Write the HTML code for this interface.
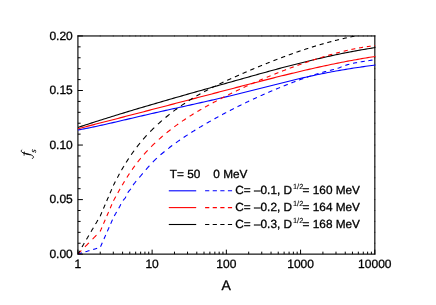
<!DOCTYPE html>
<html><head><meta charset="utf-8"><title>chart</title>
<style>
html,body{margin:0;padding:0;background:#fff;}
body{width:436px;height:305px;overflow:hidden;font-family:"Liberation Sans",sans-serif;}
svg{display:block;will-change:transform;opacity:0.999;}
text{font-family:"Liberation Sans",sans-serif;fill:#000;text-rendering:geometricPrecision;stroke:#000;stroke-width:0.3px;}
.tl{font-size:12px;}
.lg{font-size:11.8px;}
</style></head><body>
<svg width="436" height="305" viewBox="0 0 436 305">
<rect x="0" y="0" width="436" height="305" fill="#fff"/>
<defs><clipPath id="cp"><rect x="77.9" y="35.95" width="297.59999999999997" height="218.2"/></clipPath></defs>

<rect x="77.9" y="35.95" width="296.9" height="218.2" fill="none" stroke="#2b2b2b" stroke-width="1.35"/>
<g clip-path="url(#cp)" fill="none" stroke-width="1.1" stroke-linejoin="round">
<path d="M77.90,129.99 L79.90,129.62 L81.90,129.25 L83.90,128.87 L85.90,128.48 L87.90,128.09 L89.90,127.68 L91.90,127.27 L93.89,126.86 L95.89,126.43 L97.89,126.00 L99.89,125.57 L101.89,125.13 L103.89,124.69 L105.89,124.24 L107.89,123.79 L109.89,123.33 L111.89,122.87 L113.89,122.41 L115.89,121.94 L117.89,121.48 L119.89,121.01 L121.89,120.54 L123.88,120.07 L125.88,119.60 L127.88,119.13 L129.88,118.65 L131.88,118.18 L133.88,117.71 L135.88,117.24 L137.88,116.77 L139.88,116.31 L141.88,115.84 L143.88,115.38 L145.88,114.92 L147.88,114.46 L149.88,114.01 L151.88,113.55 L153.87,113.10 L155.87,112.65 L157.87,112.20 L159.87,111.75 L161.87,111.30 L163.87,110.86 L165.87,110.41 L167.87,109.97 L169.87,109.52 L171.87,109.08 L173.87,108.63 L175.87,108.19 L177.87,107.75 L179.87,107.31 L181.87,106.86 L183.86,106.42 L185.86,105.98 L187.86,105.53 L189.86,105.09 L191.86,104.64 L193.86,104.20 L195.86,103.75 L197.86,103.31 L199.86,102.86 L201.86,102.41 L203.86,101.96 L205.86,101.51 L207.86,101.05 L209.86,100.60 L211.86,100.14 L213.85,99.68 L215.85,99.22 L217.85,98.76 L219.85,98.29 L221.85,97.83 L223.85,97.36 L225.85,96.88 L227.85,96.41 L229.85,95.93 L231.85,95.45 L233.85,94.97 L235.85,94.48 L237.85,93.99 L239.85,93.50 L241.84,93.00 L243.84,92.51 L245.84,92.01 L247.84,91.51 L249.84,91.00 L251.84,90.50 L253.84,89.99 L255.84,89.49 L257.84,88.98 L259.84,88.47 L261.84,87.96 L263.84,87.46 L265.84,86.95 L267.84,86.44 L269.84,85.94 L271.83,85.43 L273.83,84.93 L275.83,84.42 L277.83,83.92 L279.83,83.42 L281.83,82.92 L283.83,82.43 L285.83,81.94 L287.83,81.45 L289.83,80.96 L291.83,80.48 L293.83,80.00 L295.83,79.52 L297.83,79.05 L299.83,78.58 L301.82,78.12 L303.82,77.66 L305.82,77.20 L307.82,76.75 L309.82,76.31 L311.82,75.87 L313.82,75.44 L315.82,75.01 L317.82,74.58 L319.82,74.17 L321.82,73.76 L323.82,73.35 L325.82,72.95 L327.82,72.56 L329.82,72.17 L331.81,71.79 L333.81,71.42 L335.81,71.05 L337.81,70.70 L339.81,70.35 L341.81,70.00 L343.81,69.67 L345.81,69.34 L347.81,69.01 L349.81,68.70 L351.81,68.38 L353.81,68.08 L355.81,67.77 L357.81,67.48 L359.81,67.18 L361.80,66.89 L363.80,66.60 L365.80,66.31 L367.80,66.02 L369.80,65.74 L371.80,65.46 L373.80,65.17 L375.80,64.89" stroke="#0000ff"/>
<path d="M77.90,128.71 L79.90,128.20 L81.90,127.69 L83.90,127.18 L85.90,126.66 L87.90,126.15 L89.90,125.64 L91.90,125.12 L93.89,124.61 L95.89,124.09 L97.89,123.58 L99.89,123.06 L101.89,122.55 L103.89,122.03 L105.89,121.52 L107.89,121.00 L109.89,120.48 L111.89,119.97 L113.89,119.45 L115.89,118.93 L117.89,118.41 L119.89,117.90 L121.89,117.38 L123.88,116.86 L125.88,116.34 L127.88,115.82 L129.88,115.30 L131.88,114.78 L133.88,114.27 L135.88,113.75 L137.88,113.23 L139.88,112.71 L141.88,112.19 L143.88,111.67 L145.88,111.15 L147.88,110.63 L149.88,110.11 L151.88,109.58 L153.87,109.06 L155.87,108.54 L157.87,108.02 L159.87,107.50 L161.87,106.98 L163.87,106.46 L165.87,105.94 L167.87,105.41 L169.87,104.89 L171.87,104.37 L173.87,103.85 L175.87,103.33 L177.87,102.80 L179.87,102.28 L181.87,101.76 L183.86,101.24 L185.86,100.71 L187.86,100.19 L189.86,99.67 L191.86,99.15 L193.86,98.62 L195.86,98.10 L197.86,97.58 L199.86,97.06 L201.86,96.53 L203.86,96.01 L205.86,95.49 L207.86,94.97 L209.86,94.44 L211.86,93.92 L213.85,93.40 L215.85,92.87 L217.85,92.35 L219.85,91.83 L221.85,91.31 L223.85,90.78 L225.85,90.26 L227.85,89.74 L229.85,89.22 L231.85,88.69 L233.85,88.17 L235.85,87.65 L237.85,87.13 L239.85,86.60 L241.84,86.08 L243.84,85.56 L245.84,85.04 L247.84,84.52 L249.84,84.00 L251.84,83.48 L253.84,82.96 L255.84,82.45 L257.84,81.93 L259.84,81.41 L261.84,80.90 L263.84,80.39 L265.84,79.88 L267.84,79.37 L269.84,78.86 L271.83,78.35 L273.83,77.85 L275.83,77.34 L277.83,76.84 L279.83,76.34 L281.83,75.84 L283.83,75.35 L285.83,74.86 L287.83,74.37 L289.83,73.88 L291.83,73.39 L293.83,72.91 L295.83,72.43 L297.83,71.95 L299.83,71.47 L301.82,71.00 L303.82,70.53 L305.82,70.07 L307.82,69.61 L309.82,69.15 L311.82,68.69 L313.82,68.24 L315.82,67.79 L317.82,67.34 L319.82,66.90 L321.82,66.46 L323.82,66.03 L325.82,65.60 L327.82,65.17 L329.82,64.75 L331.81,64.33 L333.81,63.92 L335.81,63.51 L337.81,63.11 L339.81,62.71 L341.81,62.32 L343.81,61.93 L345.81,61.54 L347.81,61.16 L349.81,60.78 L351.81,60.42 L353.81,60.05 L355.81,59.69 L357.81,59.34 L359.81,58.99 L361.80,58.65 L363.80,58.31 L365.80,57.98 L367.80,57.65 L369.80,57.33 L371.80,57.02 L373.80,56.71 L375.80,56.41" stroke="#ff0000"/>
<path d="M77.90,127.46 L79.90,126.80 L81.90,126.14 L83.90,125.48 L85.90,124.83 L87.90,124.17 L89.90,123.52 L91.90,122.88 L93.89,122.23 L95.89,121.59 L97.89,120.95 L99.89,120.32 L101.89,119.68 L103.89,119.05 L105.89,118.42 L107.89,117.80 L109.89,117.17 L111.89,116.55 L113.89,115.93 L115.89,115.31 L117.89,114.70 L119.89,114.08 L121.89,113.47 L123.88,112.86 L125.88,112.25 L127.88,111.65 L129.88,111.05 L131.88,110.44 L133.88,109.84 L135.88,109.25 L137.88,108.65 L139.88,108.05 L141.88,107.46 L143.88,106.87 L145.88,106.28 L147.88,105.69 L149.88,105.10 L151.88,104.51 L153.87,103.93 L155.87,103.35 L157.87,102.76 L159.87,102.18 L161.87,101.60 L163.87,101.02 L165.87,100.44 L167.87,99.87 L169.87,99.29 L171.87,98.72 L173.87,98.14 L175.87,97.57 L177.87,97.00 L179.87,96.42 L181.87,95.85 L183.86,95.28 L185.86,94.71 L187.86,94.14 L189.86,93.58 L191.86,93.01 L193.86,92.44 L195.86,91.87 L197.86,91.30 L199.86,90.74 L201.86,90.17 L203.86,89.60 L205.86,89.04 L207.86,88.47 L209.86,87.91 L211.86,87.34 L213.85,86.77 L215.85,86.21 L217.85,85.64 L219.85,85.07 L221.85,84.51 L223.85,83.94 L225.85,83.37 L227.85,82.81 L229.85,82.24 L231.85,81.67 L233.85,81.11 L235.85,80.54 L237.85,79.98 L239.85,79.41 L241.84,78.85 L243.84,78.28 L245.84,77.72 L247.84,77.16 L249.84,76.60 L251.84,76.04 L253.84,75.48 L255.84,74.92 L257.84,74.36 L259.84,73.81 L261.84,73.26 L263.84,72.71 L265.84,72.16 L267.84,71.61 L269.84,71.06 L271.83,70.52 L273.83,69.98 L275.83,69.44 L277.83,68.90 L279.83,68.37 L281.83,67.84 L283.83,67.31 L285.83,66.78 L287.83,66.26 L289.83,65.74 L291.83,65.22 L293.83,64.71 L295.83,64.20 L297.83,63.69 L299.83,63.19 L301.82,62.69 L303.82,62.19 L305.82,61.70 L307.82,61.21 L309.82,60.72 L311.82,60.24 L313.82,59.76 L315.82,59.29 L317.82,58.82 L319.82,58.35 L321.82,57.89 L323.82,57.44 L325.82,56.99 L327.82,56.54 L329.82,56.10 L331.81,55.66 L333.81,55.23 L335.81,54.81 L337.81,54.39 L339.81,53.97 L341.81,53.56 L343.81,53.16 L345.81,52.76 L347.81,52.36 L349.81,51.98 L351.81,51.60 L353.81,51.22 L355.81,50.85 L357.81,50.49 L359.81,50.13 L361.80,49.78 L363.80,49.44 L365.80,49.10 L367.80,48.77 L369.80,48.45 L371.80,48.13 L373.80,47.82 L375.80,47.52" stroke="#000"/>
<path d="M77.90,254.00 L78.29,253.89 L78.67,253.77 L79.06,253.66 L79.44,253.54 L79.83,253.43 L80.21,253.32 L80.60,253.20 L80.98,253.09 L81.37,252.98 L81.75,252.86 L81.85,252.83 M85.51,251.75 L85.89,251.64 L86.28,251.53 L86.66,251.41 L87.05,251.30 L87.43,251.18 L87.82,251.07 L88.20,250.96 L88.59,250.84 L88.97,250.73 L89.36,250.61 L89.46,250.59 M93.21,249.48 L93.60,249.36 L93.98,249.25 L94.37,249.14 L94.75,249.02 L95.14,248.91 L95.52,248.79 L95.91,248.68 L96.29,248.57 L96.68,248.45 L97.06,248.34 L97.16,248.31 M100.52,246.76 L100.69,246.39 L100.85,246.03 L101.01,245.66 L101.17,245.29 L101.33,244.93 L101.49,244.56 L101.66,244.19 L101.82,243.83 L101.98,243.46 L102.14,243.09 L102.30,242.73 M103.92,239.06 L104.08,238.69 L104.25,238.33 L104.41,237.96 L104.57,237.59 L104.73,237.23 L104.89,236.86 L105.06,236.49 L105.22,236.13 L105.38,235.76 L105.54,235.40 L105.70,235.03 M107.32,231.36 L107.48,231.00 L107.64,230.63 L107.81,230.26 L107.97,229.90 L108.13,229.53 L108.29,229.16 L108.45,228.80 L108.62,228.43 L108.78,228.06 L108.94,227.70 L109.10,227.33 M110.72,223.67 L110.88,223.30 L111.04,222.93 L111.21,222.57 L111.37,222.20 L111.53,221.83 L111.69,221.47 L111.85,221.10 L112.02,220.73 L112.18,220.37 L112.34,220.00 L112.50,219.63 M114.34,215.92 L114.53,215.56 L114.73,215.20 L114.93,214.85 L115.14,214.49 L115.34,214.14 L115.54,213.78 L115.75,213.43 L115.95,213.07 L116.15,212.72 L116.35,212.37 L116.55,212.03 L116.61,211.94 M118.73,208.27 L118.92,207.92 L119.12,207.56 L119.31,207.21 L119.51,206.86 L119.70,206.51 L119.90,206.16 L120.09,205.80 L120.27,205.44 L120.46,205.08 L120.65,204.71 L120.84,204.35 L120.88,204.26 M123.10,200.52 L123.35,200.21 L123.60,199.89 L123.85,199.58 L124.11,199.26 L124.37,198.94 L124.64,198.63 L124.90,198.31 L125.16,197.99 L125.35,197.64 L125.54,197.28 L125.73,196.93 L125.91,196.58 L125.96,196.49 M127.71,192.84 L127.92,192.49 L128.16,192.16 L128.40,191.83 L128.63,191.50 L128.87,191.17 L129.11,190.84 L129.39,190.54 L129.67,190.23 L129.94,189.93 L130.22,189.63 L130.49,189.32 L130.72,188.98 L130.83,188.81 M133.06,185.15 L133.30,184.81 L133.54,184.47 L133.78,184.12 L134.02,183.78 L134.26,183.44 L134.51,183.11 L134.78,182.80 L135.04,182.48 L135.30,182.16 L135.57,181.85 L135.83,181.54 L136.09,181.23 L136.16,181.16 M139.31,177.48 L139.57,177.17 L139.84,176.86 L140.10,176.55 L140.37,176.24 L140.63,175.93 L140.89,175.62 L141.16,175.31 L141.42,174.99 L141.69,174.68 L141.95,174.37 L142.21,174.06 L142.48,173.75 L142.74,173.44 M145.90,169.74 L146.16,169.44 L146.44,169.12 L146.71,168.80 L146.99,168.49 L147.26,168.17 L147.54,167.85 L147.82,167.54 L148.10,167.22 L148.37,166.91 L148.65,166.60 L148.93,166.28 L149.21,165.98 L149.42,165.75 M152.81,162.08 L153.10,161.78 L153.40,161.48 L153.69,161.19 L153.98,160.89 L154.28,160.60 L154.57,160.31 L154.86,160.02 L155.15,159.73 L155.44,159.44 L155.73,159.16 L156.03,158.88 L156.32,158.61 L156.61,158.33 L156.84,158.12 M160.55,154.81 L160.87,154.55 L161.18,154.29 L161.49,154.03 L161.80,153.77 L162.11,153.51 L162.42,153.25 L162.72,152.99 L163.03,152.73 L163.34,152.47 L163.65,152.22 L163.96,151.96 L164.27,151.71 L164.50,151.52 M168.20,148.58 L168.53,148.32 L168.86,148.07 L169.18,147.81 L169.51,147.56 L169.84,147.30 L170.17,147.05 L170.50,146.80 L170.83,146.55 L171.16,146.30 L171.49,146.05 L171.82,145.81 L172.15,145.56 L172.23,145.50 M175.93,142.79 L176.26,142.55 L176.59,142.31 L176.92,142.08 L177.25,141.85 L177.57,141.61 L177.90,141.38 L178.23,141.15 L178.56,140.92 L178.89,140.69 L179.22,140.46 L179.55,140.23 L179.88,140.00 L179.97,139.94 M183.62,137.46 L183.97,137.23 L184.32,137.00 L184.67,136.77 L185.02,136.53 L185.37,136.30 L185.72,136.07 L186.07,135.84 L186.42,135.61 L186.78,135.38 L187.13,135.15 L187.48,134.93 L187.66,134.81 M191.34,132.46 L191.69,132.24 L192.04,132.02 L192.39,131.81 L192.74,131.59 L193.09,131.37 L193.44,131.15 L193.80,130.93 L194.15,130.72 L194.50,130.50 L194.85,130.28 L195.20,130.07 L195.38,129.96 M199.06,127.73 L199.41,127.52 L199.76,127.31 L200.11,127.10 L200.46,126.89 L200.82,126.69 L201.17,126.48 L201.52,126.27 L201.87,126.06 L202.22,125.86 L202.58,125.65 L202.93,125.45 L203.01,125.40 M206.70,123.25 L207.05,123.05 L207.40,122.85 L207.75,122.64 L208.10,122.44 L208.45,122.24 L208.80,122.04 L209.16,121.84 L209.51,121.64 L209.86,121.44 L210.21,121.24 L210.56,121.04 L210.74,120.94 M214.43,118.87 L214.78,118.67 L215.16,118.46 L215.53,118.26 L215.91,118.05 L216.26,117.85 L216.62,117.66 L216.97,117.46 L217.32,117.27 L217.67,117.08 L218.02,116.89 L218.38,116.69 L218.46,116.65 M222.11,114.66 L222.49,114.46 L222.86,114.26 L223.24,114.06 L223.62,113.86 L223.99,113.66 L224.37,113.46 L224.75,113.26 L225.13,113.06 L225.50,112.86 L225.88,112.66 L226.16,112.52 M229.82,110.60 L230.20,110.41 L230.57,110.21 L230.95,110.02 L231.33,109.83 L231.71,109.64 L232.08,109.44 L232.46,109.25 L232.84,109.06 L233.21,108.86 L233.59,108.67 L233.87,108.53 M237.54,106.68 L237.91,106.50 L238.29,106.31 L238.66,106.12 L239.04,105.94 L239.42,105.75 L239.79,105.56 L240.17,105.38 L240.55,105.19 L240.93,105.01 L241.30,104.82 L241.49,104.73 M245.25,102.91 L245.62,102.72 L246.00,102.55 L246.37,102.36 L246.75,102.19 L247.13,102.00 L247.51,101.83 L247.88,101.65 L248.25,101.47 L248.63,101.29 L249.00,101.12 L249.19,101.03 M252.95,99.27 L253.33,99.09 L253.71,98.92 L254.09,98.74 L254.46,98.57 L254.84,98.40 L255.22,98.22 L255.59,98.05 L255.97,97.88 L256.34,97.70 L256.72,97.53 L256.90,97.45 M260.67,95.75 L261.04,95.58 L261.42,95.41 L261.80,95.25 L262.17,95.08 L262.55,94.91 L262.93,94.74 L263.31,94.57 L263.68,94.41 L264.05,94.24 L264.43,94.07 L264.62,93.99 M268.29,92.40 L268.66,92.24 L269.04,92.08 L269.41,91.91 L269.79,91.75 L270.17,91.59 L270.55,91.43 L270.92,91.27 L271.30,91.11 L271.67,90.95 L272.05,90.79 L272.33,90.67 M276.00,89.13 L276.37,88.97 L276.75,88.81 L277.13,88.66 L277.50,88.50 L277.88,88.35 L278.25,88.19 L278.63,88.04 L279.00,87.88 L279.38,87.72 L279.76,87.57 L280.04,87.45 M283.71,85.97 L284.08,85.82 L284.46,85.67 L284.84,85.52 L285.21,85.37 L285.59,85.22 L285.97,85.07 L286.34,84.92 L286.72,84.77 L287.09,84.62 L287.47,84.47 L287.75,84.36 M291.42,82.92 L291.79,82.78 L292.17,82.63 L292.55,82.49 L292.93,82.34 L293.30,82.20 L293.68,82.05 L294.05,81.91 L294.43,81.76 L294.80,81.62 L295.18,81.48 L295.46,81.37 M299.13,80.00 L299.51,79.86 L299.88,79.73 L300.26,79.59 L300.64,79.45 L301.01,79.32 L301.39,79.18 L301.78,79.04 L302.18,78.89 L302.59,78.75 L302.98,78.61 L303.17,78.54 M306.84,77.25 L307.25,77.11 L307.65,76.97 L308.06,76.83 L308.46,76.70 L308.87,76.56 L309.27,76.43 L309.67,76.29 L310.08,76.16 L310.49,76.02 L310.79,75.92 M314.54,74.71 L314.94,74.59 L315.35,74.46 L315.76,74.33 L316.16,74.21 L316.56,74.08 L316.97,73.96 L317.37,73.83 L317.78,73.71 L318.18,73.59 L318.49,73.50 M322.23,72.41 L322.64,72.30 L323.05,72.19 L323.45,72.07 L323.86,71.96 L324.26,71.85 L324.67,71.74 L325.07,71.63 L325.47,71.53 L325.88,71.42 L326.18,71.34 M329.93,70.39 L330.34,70.29 L330.74,70.19 L331.15,70.10 L331.56,70.00 L331.96,69.91 L332.36,69.81 L332.77,69.72 L333.17,69.62 L333.58,69.52 L333.88,69.45 M337.63,68.38 L338.03,68.24 L338.44,68.10 L338.81,67.94 L339.19,67.79 L339.56,67.63 L339.94,67.47 L340.32,67.31 L340.69,67.14 L341.07,66.98 L341.45,66.83 L341.64,66.75 M345.32,65.40 L345.73,65.27 L346.14,65.14 L346.54,65.01 L346.94,64.89 L347.35,64.77 L347.75,64.65 L348.16,64.54 L348.56,64.42 L348.97,64.31 L349.38,64.20 M353.02,63.32 L353.43,63.24 L353.83,63.15 L354.24,63.07 L354.64,62.99 L355.05,62.90 L355.45,62.82 L355.85,62.74 L356.26,62.67 L356.67,62.60 L357.07,62.52 M360.72,61.90 L361.12,61.83 L361.53,61.77 L361.93,61.70 L362.33,61.64 L362.74,61.58 L363.15,61.52 L363.55,61.45 L363.96,61.39 L364.36,61.33 L364.77,61.27 M368.42,60.71 L368.82,60.64 L369.22,60.58 L369.63,60.51 L370.03,60.44 L370.44,60.37 L370.84,60.30 L371.25,60.24 L371.65,60.16 L372.06,60.09 L372.47,60.02" stroke="#0000ff"/>
<path d="M77.90,254.00 L78.18,253.71 L78.46,253.43 L78.74,253.14 L79.02,252.86 L79.31,252.57 L79.59,252.29 L79.87,252.00 L80.15,251.72 L80.43,251.43 L80.71,251.14 L80.99,250.86 L81.27,250.57 L81.34,250.50 M85.00,246.79 L85.28,246.50 L85.56,246.22 L85.84,245.93 L86.12,245.65 L86.40,245.36 L86.68,245.08 L86.96,244.79 L87.24,244.51 L87.52,244.22 L87.81,243.93 L88.09,243.65 L88.37,243.36 L88.65,243.08 L88.93,242.79 M92.51,239.15 L92.79,238.87 L93.07,238.58 L93.36,238.30 L93.64,238.01 L93.92,237.72 L94.20,237.44 L94.48,237.15 L94.76,236.87 L95.04,236.58 L95.32,236.30 L95.60,236.01 L95.88,235.73 L96.17,235.44 L96.45,235.15 L96.52,235.08 M100.10,231.44 L100.32,231.12 L100.48,230.75 L100.64,230.38 L100.80,230.01 L100.96,229.64 L101.11,229.27 L101.27,228.91 L101.43,228.54 L101.59,228.17 L101.75,227.80 L101.91,227.43 M103.50,223.75 L103.66,223.38 L103.82,223.01 L103.97,222.65 L104.13,222.28 L104.29,221.91 L104.45,221.54 L104.61,221.17 L104.77,220.80 L104.93,220.44 L105.09,220.07 L105.25,219.70 M106.83,216.02 L106.99,215.65 L107.15,215.28 L107.31,214.91 L107.47,214.54 L107.63,214.18 L107.79,213.81 L107.95,213.44 L108.11,213.07 L108.26,212.70 L108.42,212.33 L108.58,211.97 M110.17,208.28 L110.33,207.92 L110.49,207.55 L110.65,207.18 L110.81,206.81 L110.97,206.44 L111.13,206.07 L111.28,205.71 L111.44,205.34 L111.60,204.97 L111.76,204.60 L111.88,204.32 M113.51,200.66 L113.70,200.30 L113.90,199.95 L114.09,199.60 L114.29,199.25 L114.48,198.89 L114.68,198.54 L114.87,198.19 L115.07,197.84 L115.27,197.49 L115.46,197.14 L115.66,196.79 L115.75,196.61 M117.82,192.90 L118.02,192.54 L118.22,192.18 L118.43,191.82 L118.63,191.46 L118.83,191.10 L119.04,190.74 L119.24,190.38 L119.44,190.03 L119.65,189.67 L119.85,189.31 L120.05,188.95 L120.10,188.87 M122.23,185.18 L122.43,184.83 L122.64,184.48 L122.85,184.13 L123.06,183.77 L123.27,183.42 L123.48,183.06 L123.69,182.71 L123.90,182.35 L124.11,182.00 L124.32,181.66 L124.53,181.31 L124.58,181.22 M126.86,177.53 L127.09,177.18 L127.31,176.84 L127.53,176.49 L127.75,176.15 L127.96,175.81 L128.18,175.47 L128.40,175.13 L128.62,174.79 L128.84,174.45 L129.06,174.11 L129.28,173.77 L129.45,173.51 M131.99,169.79 L132.23,169.45 L132.46,169.10 L132.70,168.76 L132.94,168.42 L133.18,168.08 L133.42,167.75 L133.66,167.42 L133.90,167.09 L134.14,166.76 L134.38,166.43 L134.62,166.10 L134.86,165.78 M137.64,162.11 L137.89,161.78 L138.14,161.46 L138.39,161.14 L138.64,160.82 L138.89,160.51 L139.14,160.19 L139.39,159.88 L139.64,159.56 L139.90,159.24 L140.17,158.92 L140.43,158.59 L140.70,158.27 L140.83,158.11 M143.94,154.46 L144.22,154.14 L144.49,153.83 L144.77,153.52 L145.05,153.21 L145.33,152.90 L145.60,152.59 L145.88,152.28 L146.16,151.98 L146.44,151.67 L146.71,151.37 L146.99,151.07 L147.26,150.77 L147.54,150.47 L147.61,150.40 M151.13,146.75 L151.42,146.45 L151.71,146.16 L152.00,145.87 L152.30,145.59 L152.59,145.30 L152.88,145.01 L153.18,144.72 L153.47,144.44 L153.76,144.16 L154.06,143.87 L154.35,143.59 L154.64,143.31 L154.93,143.04 L155.15,142.83 M158.85,139.43 L159.16,139.15 L159.47,138.87 L159.78,138.60 L160.09,138.33 L160.40,138.05 L160.71,137.78 L161.02,137.51 L161.33,137.24 L161.64,136.98 L161.95,136.71 L162.26,136.44 L162.57,136.18 L162.88,135.92 M166.55,132.85 L166.88,132.58 L167.21,132.32 L167.54,132.05 L167.87,131.79 L168.20,131.53 L168.53,131.27 L168.86,131.00 L169.18,130.75 L169.51,130.48 L169.84,130.22 L170.17,129.97 L170.50,129.71 L170.58,129.65 M174.28,126.84 L174.61,126.60 L174.94,126.35 L175.27,126.11 L175.60,125.87 L175.93,125.63 L176.26,125.39 L176.59,125.15 L176.92,124.91 L177.25,124.68 L177.57,124.44 L177.90,124.20 L178.23,123.97 M181.95,121.38 L182.30,121.14 L182.65,120.90 L183.00,120.66 L183.35,120.42 L183.71,120.18 L184.06,119.95 L184.41,119.71 L184.76,119.48 L185.11,119.25 L185.46,119.01 L185.81,118.78 L185.98,118.67 M189.67,116.28 L190.02,116.06 L190.37,115.84 L190.73,115.62 L191.08,115.40 L191.43,115.18 L191.78,114.96 L192.13,114.74 L192.48,114.52 L192.83,114.30 L193.18,114.08 L193.53,113.86 L193.71,113.76 M197.39,111.54 L197.75,111.33 L198.10,111.12 L198.45,110.91 L198.80,110.70 L199.15,110.50 L199.50,110.29 L199.85,110.09 L200.20,109.88 L200.55,109.68 L200.90,109.47 L201.26,109.27 L201.34,109.22 M205.03,107.13 L205.38,106.93 L205.73,106.73 L206.09,106.53 L206.44,106.34 L206.79,106.14 L207.16,105.93 L207.54,105.72 L207.91,105.51 L208.28,105.31 L208.63,105.12 L208.98,104.93 L209.07,104.88 M212.71,102.91 L213.09,102.70 L213.46,102.50 L213.84,102.30 L214.22,102.10 L214.60,101.90 L214.97,101.70 L215.34,101.50 L215.72,101.31 L216.09,101.11 L216.47,100.91 L216.75,100.76 M220.42,98.85 L220.80,98.65 L221.18,98.46 L221.55,98.26 L221.93,98.07 L222.30,97.88 L222.67,97.68 L223.05,97.49 L223.43,97.30 L223.81,97.11 L224.18,96.92 L224.47,96.77 M228.13,94.92 L228.51,94.73 L228.89,94.55 L229.26,94.36 L229.64,94.18 L230.01,93.99 L230.39,93.81 L230.76,93.62 L231.14,93.44 L231.52,93.25 L231.89,93.06 L232.18,92.92 M235.84,91.14 L236.22,90.97 L236.60,90.78 L236.98,90.61 L237.35,90.42 L237.72,90.25 L238.10,90.07 L238.47,89.89 L238.85,89.70 L239.23,89.53 L239.61,89.34 L239.89,89.21 M243.56,87.49 L243.93,87.32 L244.31,87.15 L244.69,86.97 L245.06,86.80 L245.44,86.63 L245.81,86.45 L246.19,86.28 L246.56,86.11 L246.94,85.94 L247.32,85.77 L247.60,85.64 M251.27,83.98 L251.64,83.81 L252.02,83.64 L252.39,83.48 L252.77,83.31 L253.14,83.14 L253.52,82.97 L253.90,82.81 L254.27,82.64 L254.65,82.47 L255.03,82.31 L255.22,82.22 M258.98,80.59 L259.36,80.43 L259.73,80.27 L260.11,80.10 L260.48,79.94 L260.85,79.78 L261.23,79.62 L261.61,79.46 L261.99,79.30 L262.36,79.14 L262.74,78.98 L262.93,78.90 M266.69,77.32 L267.07,77.17 L267.44,77.01 L267.82,76.86 L268.19,76.70 L268.57,76.55 L268.94,76.39 L269.32,76.24 L269.70,76.09 L270.07,75.93 L270.45,75.78 L270.64,75.70 M274.40,74.17 L274.78,74.03 L275.16,73.88 L275.53,73.73 L275.90,73.58 L276.28,73.42 L276.65,73.27 L277.03,73.12 L277.41,72.98 L277.79,72.83 L278.16,72.68 L278.35,72.60 M282.02,71.18 L282.39,71.03 L282.77,70.89 L283.14,70.74 L283.52,70.60 L283.89,70.45 L284.27,70.31 L284.65,70.17 L285.03,70.03 L285.40,69.88 L285.78,69.74 L286.06,69.63 M289.73,68.25 L290.13,68.10 L290.54,67.95 L290.94,67.80 L291.32,67.66 L291.70,67.52 L292.08,67.38 L292.45,67.25 L292.83,67.11 L293.21,66.97 L293.59,66.83 L293.78,66.75 M297.44,65.43 L297.83,65.29 L298.23,65.14 L298.64,65.00 L299.04,64.85 L299.45,64.71 L299.85,64.57 L300.26,64.43 L300.64,64.30 L301.01,64.16 L301.39,64.03 L301.49,63.99 M305.12,62.73 L305.52,62.59 L305.93,62.45 L306.33,62.31 L306.74,62.17 L307.14,62.03 L307.55,61.89 L307.96,61.76 L308.36,61.62 L308.76,61.48 L309.17,61.34 M312.82,60.13 L313.22,60.00 L313.62,59.86 L314.03,59.73 L314.44,59.60 L314.84,59.47 L315.25,59.33 L315.65,59.20 L316.06,59.07 L316.46,58.94 L316.87,58.81 M320.51,57.66 L320.92,57.54 L321.32,57.41 L321.73,57.29 L322.13,57.16 L322.54,57.04 L322.94,56.92 L323.35,56.79 L323.76,56.67 L324.16,56.55 L324.56,56.43 M328.21,55.35 L328.62,55.24 L329.02,55.12 L329.42,55.00 L329.83,54.88 L330.24,54.77 L330.64,54.65 L331.05,54.54 L331.45,54.42 L331.86,54.31 L332.26,54.20 M336.00,53.19 L336.41,53.08 L336.82,52.97 L337.22,52.86 L337.63,52.76 L338.03,52.65 L338.44,52.54 L338.84,52.44 L339.25,52.34 L339.65,52.24 L339.95,52.16 M343.70,51.23 L344.11,51.13 L344.51,51.04 L344.92,50.94 L345.32,50.85 L345.73,50.75 L346.14,50.66 L346.54,50.56 L346.94,50.47 L347.35,50.38 L347.65,50.31 M351.40,49.48 L351.80,49.40 L352.21,49.32 L352.62,49.23 L353.02,49.15 L353.43,49.07 L353.83,48.98 L354.24,48.90 L354.64,48.82 L355.05,48.74 L355.35,48.68 M359.10,47.96 L359.50,47.89 L359.91,47.82 L360.31,47.75 L360.72,47.68 L361.12,47.61 L361.53,47.54 L361.93,47.47 L362.33,47.40 L362.74,47.33 L363.04,47.28 M366.79,46.69 L367.20,46.63 L367.60,46.57 L368.01,46.51 L368.42,46.45 L368.82,46.40 L369.22,46.34 L369.63,46.29 L370.03,46.23 L370.44,46.18 L370.74,46.14 M374.49,45.68 L374.89,45.64 L375.30,45.59" stroke="#ff0000"/>
<path d="M77.90,254.00 L78.10,253.65 L78.31,253.31 L78.51,252.96 L78.71,252.62 L78.92,252.27 L79.12,251.93 L79.32,251.58 L79.52,251.24 L79.73,250.89 L79.78,250.80 M81.96,247.09 L82.16,246.75 L82.37,246.40 L82.57,246.05 L82.77,245.71 L82.98,245.36 L83.18,245.02 L83.38,244.67 L83.59,244.33 L83.79,243.98 L83.99,243.64 L84.20,243.29 L84.30,243.12 M86.48,239.40 L86.68,239.06 L86.89,238.71 L87.09,238.37 L87.29,238.02 L87.50,237.68 L87.70,237.33 L87.90,236.99 L88.11,236.64 L88.31,236.30 L88.51,235.95 L88.71,235.60 L88.82,235.43 M91.00,231.72 L91.20,231.37 L91.41,231.03 L91.61,230.68 L91.81,230.34 L92.01,229.99 L92.22,229.65 L92.42,229.30 L92.62,228.95 L92.83,228.61 L93.03,228.26 L93.23,227.92 L93.33,227.75 M95.52,224.03 L95.72,223.69 L95.92,223.34 L96.13,223.00 L96.33,222.65 L96.53,222.30 L96.74,221.96 L96.94,221.61 L97.14,221.27 L97.35,220.92 L97.55,220.58 L97.75,220.23 L97.90,219.97 M100.04,216.35 L100.24,216.00 L100.40,215.63 L100.56,215.26 L100.71,214.90 L100.87,214.53 L101.03,214.16 L101.19,213.79 L101.35,213.43 L101.50,213.06 L101.66,212.69 L101.82,212.32 M103.40,208.65 L103.56,208.28 L103.71,207.91 L103.87,207.54 L104.03,207.18 L104.19,206.81 L104.35,206.44 L104.50,206.07 L104.66,205.71 L104.82,205.34 L104.98,204.97 L105.14,204.60 M106.72,200.93 L106.87,200.56 L107.03,200.19 L107.19,199.83 L107.35,199.46 L107.51,199.09 L107.66,198.72 L107.82,198.35 L107.98,197.99 L108.14,197.62 L108.30,197.25 L108.45,196.88 M110.03,193.21 L110.19,192.84 L110.35,192.47 L110.51,192.11 L110.66,191.74 L110.82,191.37 L110.98,191.00 L111.14,190.63 L111.30,190.27 L111.45,189.90 L111.61,189.53 L111.77,189.16 M113.36,185.49 L113.54,185.12 L113.72,184.76 L113.90,184.39 L114.08,184.03 L114.27,183.66 L114.45,183.30 L114.63,182.93 L114.82,182.56 L115.01,182.19 L115.20,181.82 L115.34,181.55 M117.26,177.84 L117.46,177.48 L117.65,177.11 L117.85,176.75 L118.04,176.38 L118.24,176.02 L118.43,175.65 L118.63,175.29 L118.82,174.94 L119.02,174.58 L119.22,174.23 L119.41,173.88 L119.46,173.79 M121.51,170.13 L121.72,169.78 L121.92,169.43 L122.12,169.08 L122.33,168.73 L122.53,168.38 L122.74,168.02 L122.95,167.67 L123.16,167.31 L123.37,166.96 L123.59,166.60 L123.80,166.25 L123.90,166.07 M126.15,162.42 L126.37,162.07 L126.59,161.72 L126.81,161.38 L127.03,161.03 L127.25,160.69 L127.47,160.34 L127.69,160.00 L127.91,159.66 L128.14,159.31 L128.37,158.96 L128.60,158.61 L128.71,158.44 M131.23,154.72 L131.46,154.39 L131.69,154.05 L131.93,153.72 L132.17,153.38 L132.41,153.04 L132.64,152.70 L132.88,152.36 L133.12,152.03 L133.36,151.70 L133.60,151.37 L133.84,151.04 L134.08,150.71 M136.82,147.06 L137.07,146.73 L137.32,146.41 L137.58,146.09 L137.83,145.77 L138.08,145.45 L138.33,145.13 L138.59,144.80 L138.85,144.47 L139.12,144.15 L139.38,143.82 L139.64,143.49 L139.90,143.17 L140.04,143.01 M143.13,139.33 L143.39,139.03 L143.66,138.72 L143.94,138.41 L144.22,138.09 L144.49,137.78 L144.77,137.47 L145.05,137.16 L145.33,136.85 L145.60,136.54 L145.88,136.23 L146.16,135.93 L146.44,135.62 L146.71,135.32 M150.25,131.60 L150.54,131.30 L150.84,131.00 L151.13,130.71 L151.42,130.41 L151.71,130.12 L152.00,129.83 L152.30,129.54 L152.59,129.25 L152.88,128.96 L153.18,128.67 L153.47,128.39 L153.76,128.11 L154.06,127.82 L154.20,127.68 M157.92,124.19 L158.23,123.91 L158.54,123.63 L158.85,123.35 L159.16,123.07 L159.47,122.79 L159.78,122.52 L160.09,122.24 L160.40,121.97 L160.71,121.69 L161.02,121.42 L161.33,121.15 L161.64,120.88 L161.95,120.61 M165.58,117.52 L165.89,117.26 L166.20,117.01 L166.51,116.76 L166.82,116.50 L167.13,116.25 L167.45,115.99 L167.78,115.72 L168.12,115.45 L168.45,115.18 L168.77,114.92 L169.10,114.66 L169.43,114.40 L169.59,114.27 M173.30,111.40 L173.62,111.16 L173.95,110.91 L174.28,110.66 L174.61,110.41 L174.94,110.17 L175.27,109.92 L175.60,109.68 L175.93,109.44 L176.26,109.20 L176.59,108.96 L176.92,108.72 L177.25,108.48 L177.33,108.42 M180.98,105.84 L181.33,105.60 L181.68,105.36 L182.03,105.12 L182.39,104.88 L182.74,104.64 L183.09,104.40 L183.44,104.17 L183.79,103.93 L184.15,103.70 L184.50,103.46 L184.85,103.23 L185.02,103.11 M188.71,100.73 L189.06,100.51 L189.41,100.29 L189.76,100.07 L190.11,99.85 L190.46,99.63 L190.81,99.41 L191.16,99.19 L191.51,98.98 L191.86,98.77 L192.21,98.55 L192.56,98.34 L192.74,98.23 M196.43,96.04 L196.78,95.84 L197.13,95.63 L197.48,95.43 L197.83,95.23 L198.19,95.03 L198.54,94.83 L198.89,94.63 L199.24,94.43 L199.59,94.23 L199.94,94.03 L200.29,93.83 L200.46,93.73 M204.15,91.71 L204.53,91.51 L204.90,91.31 L205.28,91.11 L205.66,90.91 L206.04,90.71 L206.41,90.51 L206.79,90.31 L207.16,90.11 L207.54,89.92 L207.91,89.72 L208.10,89.62 M211.86,87.70 L212.24,87.51 L212.62,87.32 L212.99,87.13 L213.37,86.94 L213.75,86.75 L214.12,86.57 L214.50,86.38 L214.88,86.20 L215.25,86.01 L215.63,85.83 L215.81,85.73 M219.48,83.97 L219.86,83.78 L220.23,83.61 L220.61,83.43 L220.99,83.25 L221.36,83.08 L221.74,82.90 L222.11,82.72 L222.49,82.54 L222.86,82.37 L223.24,82.19 L223.52,82.06 M227.19,80.37 L227.57,80.20 L227.94,80.03 L228.32,79.86 L228.70,79.68 L229.08,79.51 L229.45,79.34 L229.82,79.17 L230.20,79.01 L230.57,78.84 L230.95,78.67 L231.23,78.54 M234.90,76.90 L235.28,76.73 L235.66,76.56 L236.03,76.40 L236.41,76.23 L236.79,76.06 L237.16,75.90 L237.54,75.73 L237.91,75.57 L238.29,75.40 L238.66,75.24 L238.95,75.11 M242.61,73.51 L242.99,73.34 L243.37,73.17 L243.74,73.01 L244.12,72.85 L244.50,72.68 L244.88,72.52 L245.25,72.36 L245.62,72.20 L246.00,72.04 L246.37,71.88 L246.66,71.76 M250.32,70.18 L250.70,70.02 L251.08,69.86 L251.46,69.70 L251.83,69.54 L252.21,69.38 L252.58,69.23 L252.95,69.07 L253.33,68.91 L253.71,68.75 L254.09,68.59 L254.37,68.47 M258.04,66.94 L258.41,66.78 L258.79,66.63 L259.17,66.48 L259.54,66.32 L259.92,66.17 L260.29,66.01 L260.67,65.86 L261.04,65.70 L261.42,65.55 L261.80,65.40 L261.99,65.32 M265.75,63.79 L266.12,63.63 L266.50,63.48 L266.88,63.34 L267.26,63.19 L267.63,63.04 L268.00,62.88 L268.38,62.73 L268.75,62.58 L269.13,62.43 L269.51,62.29 L269.70,62.21 M273.46,60.73 L273.84,60.58 L274.21,60.43 L274.59,60.28 L274.97,60.14 L275.34,59.99 L275.72,59.85 L276.09,59.70 L276.47,59.56 L276.84,59.41 L277.22,59.27 L277.41,59.20 M281.08,57.81 L281.45,57.66 L281.83,57.52 L282.23,57.37 L282.64,57.22 L283.04,57.07 L283.42,56.92 L283.80,56.78 L284.18,56.64 L284.55,56.50 L284.93,56.37 L285.12,56.30 M288.79,54.96 L289.16,54.82 L289.54,54.69 L289.93,54.55 L290.33,54.40 L290.74,54.25 L291.13,54.11 L291.51,53.97 L291.89,53.84 L292.27,53.70 L292.66,53.56 L292.87,53.49 M296.51,52.22 L296.92,52.08 L297.33,51.94 L297.73,51.80 L298.13,51.66 L298.54,51.52 L298.94,51.38 L299.35,51.24 L299.75,51.10 L300.16,50.96 L300.56,50.83 M304.21,49.61 L304.61,49.48 L305.02,49.35 L305.42,49.21 L305.82,49.08 L306.23,48.95 L306.64,48.82 L307.04,48.69 L307.45,48.56 L307.86,48.43 L308.26,48.30 M311.91,47.14 L312.31,47.02 L312.71,46.89 L313.12,46.76 L313.52,46.64 L313.93,46.51 L314.33,46.39 L314.74,46.26 L315.15,46.14 L315.55,46.01 L315.96,45.89 M319.60,44.81 L320.01,44.69 L320.41,44.57 L320.82,44.45 L321.22,44.33 L321.62,44.21 L322.03,44.10 L322.44,43.99 L322.84,43.87 L323.25,43.75 L323.66,43.64 M327.30,42.62 L327.71,42.51 L328.11,42.40 L328.51,42.29 L328.92,42.18 L329.32,42.07 L329.73,41.96 L330.13,41.85 L330.54,41.74 L330.95,41.63 L331.35,41.52 M334.99,40.58 L335.40,40.48 L335.80,40.38 L336.21,40.28 L336.61,40.18 L337.02,40.08 L337.42,39.97 L337.83,39.87 L338.24,39.77 L338.64,39.67 L339.04,39.57 M342.69,38.71 L343.10,38.61 L343.50,38.52 L343.90,38.42 L344.31,38.33 L344.72,38.24 L345.12,38.15 L345.53,38.06 L345.93,37.97 L346.34,37.88 L346.74,37.79 M350.39,37.00 L350.79,36.92 L351.20,36.83 L351.60,36.75 L352.01,36.67 L352.41,36.58 L352.82,36.50 L353.22,36.42 L353.63,36.33 L354.04,36.25 L354.44,36.17 M358.09,35.47 L358.49,35.39 L358.90,35.32 L359.30,35.25 L359.70,35.17 L360.11,35.10 L360.52,35.03 L360.92,34.95 L361.32,34.88 L361.73,34.81 L362.13,34.74 M365.78,34.12 L366.18,34.05 L366.59,33.99 L366.99,33.92 L367.40,33.86 L367.81,33.80 L368.21,33.74 L368.62,33.68 L369.02,33.61 L369.43,33.55 L369.83,33.49 M373.48,32.97 L373.88,32.91 L374.28,32.86 L374.69,32.80 L375.10,32.75 L375.30,32.72" stroke="#000"/>
</g>
<path d="M77.90,254.15 v-4.5 M100.24,254.15 v-2.5 M113.31,254.15 v-2.5 M122.59,254.15 v-2.5 M129.78,254.15 v-2.5 M135.66,254.15 v-2.5 M140.63,254.15 v-2.5 M144.93,254.15 v-2.5 M148.73,254.15 v-2.5 M152.12,254.15 v-4.5 M174.47,254.15 v-2.5 M187.54,254.15 v-2.5 M196.81,254.15 v-2.5 M204.01,254.15 v-2.5 M209.88,254.15 v-2.5 M214.85,254.15 v-2.5 M219.16,254.15 v-2.5 M222.95,254.15 v-2.5 M226.35,254.15 v-4.5 M248.69,254.15 v-2.5 M261.76,254.15 v-2.5 M271.04,254.15 v-2.5 M278.23,254.15 v-2.5 M284.11,254.15 v-2.5 M289.08,254.15 v-2.5 M293.38,254.15 v-2.5 M297.18,254.15 v-2.5 M300.57,254.15 v-4.5 M322.92,254.15 v-2.5 M335.99,254.15 v-2.5 M345.26,254.15 v-2.5 M352.46,254.15 v-2.5 M358.33,254.15 v-2.5 M363.30,254.15 v-2.5 M367.61,254.15 v-2.5 M371.40,254.15 v-2.5 M374.80,254.15 v-4.5 M77.9,254.15 h5 M77.9,243.24 h2.7 M77.9,232.33 h2.7 M77.9,221.42 h2.7 M77.9,210.51 h2.7 M77.9,199.60 h5 M77.9,188.69 h2.7 M77.9,177.78 h2.7 M77.9,166.87 h2.7 M77.9,155.96 h2.7 M77.9,145.05 h5 M77.9,134.14 h2.7 M77.9,123.23 h2.7 M77.9,112.32 h2.7 M77.9,101.41 h2.7 M77.9,90.50 h5 M77.9,79.59 h2.7 M77.9,68.68 h2.7 M77.9,57.77 h2.7 M77.9,46.86 h2.7 M77.9,35.95 h5" stroke="#000" stroke-width="1" fill="none"/>
<path d="M77.90,35.35 v1.3 M100.24,35.35 v1.2 M113.31,35.35 v1.2 M122.59,35.35 v1.2 M129.78,35.35 v1.2 M135.66,35.35 v1.2 M140.63,35.35 v1.2 M144.93,35.35 v1.2 M148.73,35.35 v1.2 M152.12,35.35 v1.3 M174.47,35.35 v1.2 M187.54,35.35 v1.2 M196.81,35.35 v1.2 M204.01,35.35 v1.2 M209.88,35.35 v1.2 M214.85,35.35 v1.2 M219.16,35.35 v1.2 M222.95,35.35 v1.2 M226.35,35.35 v1.3 M248.69,35.35 v1.2 M261.76,35.35 v1.2 M271.04,35.35 v1.2 M278.23,35.35 v1.2 M284.11,35.35 v1.2 M289.08,35.35 v1.2 M293.38,35.35 v1.2 M297.18,35.35 v1.2 M300.57,35.35 v1.3 M322.92,35.35 v1.2 M335.99,35.35 v1.2 M345.26,35.35 v1.2 M352.46,35.35 v1.2 M358.33,35.35 v1.2 M363.30,35.35 v1.2 M367.61,35.35 v1.2 M371.40,35.35 v1.2 M374.80,35.35 v1.3 M375.40000000000003,254.15 h-1.3 M375.40000000000003,243.24 h-1.2 M375.40000000000003,232.33 h-1.2 M375.40000000000003,221.42 h-1.2 M375.40000000000003,210.51 h-1.2 M375.40000000000003,199.60 h-1.3 M375.40000000000003,188.69 h-1.2 M375.40000000000003,177.78 h-1.2 M375.40000000000003,166.87 h-1.2 M375.40000000000003,155.96 h-1.2 M375.40000000000003,145.05 h-1.3 M375.40000000000003,134.14 h-1.2 M375.40000000000003,123.23 h-1.2 M375.40000000000003,112.32 h-1.2 M375.40000000000003,101.41 h-1.2 M375.40000000000003,90.50 h-1.3 M375.40000000000003,79.59 h-1.2 M375.40000000000003,68.68 h-1.2 M375.40000000000003,57.77 h-1.2 M375.40000000000003,46.86 h-1.2 M375.40000000000003,35.95 h-1.3" stroke="#000" stroke-opacity="0.55" stroke-width="0.9" fill="none"/>
<text class="tl" x="77.90" y="268" text-anchor="middle">1</text>
<text class="tl" x="152.12" y="268" text-anchor="middle">10</text>
<text class="tl" x="226.35" y="268" text-anchor="middle">100</text>
<text class="tl" x="300.57" y="268" text-anchor="middle">1000</text>
<text class="tl" x="374.80" y="268" text-anchor="middle">10000</text>
<text class="tl" x="72.8" y="257.90" text-anchor="end">0.00</text>
<text class="tl" x="72.8" y="203.35" text-anchor="end">0.05</text>
<text class="tl" x="72.8" y="148.80" text-anchor="end">0.10</text>
<text class="tl" x="72.8" y="94.25" text-anchor="end">0.15</text>
<text class="tl" x="72.8" y="39.70" text-anchor="end">0.20</text>
<text x="226.1" y="289.8" text-anchor="middle" style="font-size:14px">A</text>
<g fill="none" stroke="#111" stroke-linecap="round"><title>f</title><path d="M21.8,149.8 C21.2,150.1 20.9,151.3 21.7,152.0 C23.0,153.3 26.5,153.8 29.5,154.5 C31.8,155.0 33.6,155.8 33.5,157.2 C33.4,158.2 32.8,158.5 32.3,158.4" stroke-width="0.95"/><path d="M23.5,153.0 C25.5,153.6 27.5,153.9 30,154.6" stroke-width="1.25"/><path d="M24.4,151.9 L24.1,155.3" stroke-width="0.8"/></g>
<g transform="translate(36.1,152.7) rotate(-90)"><text x="0" y="0" style="font-family:'Liberation Serif',serif;font-style:italic;font-size:8.6px;stroke-width:0.15px">s</text></g>
<text class="lg" x="169.8" y="178.1">T= 50</text>
<text class="lg" x="213.3" y="178.1">0 MeV</text>
<path d="M168.8,190.8 H196.2" stroke="#0000ff" stroke-width="1.1"/>
<path d="M205.1,190.8 H232.7" stroke="#0000ff" stroke-width="1.1" stroke-dasharray="4.2 3.4"/>
<text class="lg" x="235.3" y="194">C= –0.1, D</text>
<text x="293" y="189" style="font-size:7.4px;stroke-width:0.1px">1/2</text>
<text class="lg" x="302.6" y="194">= 160 MeV</text>
<path d="M168.8,207.6 H196.2" stroke="#ff0000" stroke-width="1.1"/>
<path d="M205.1,207.6 H232.7" stroke="#ff0000" stroke-width="1.1" stroke-dasharray="4.2 3.4"/>
<text class="lg" x="235.3" y="211">C= –0.2, D</text>
<text x="293" y="206" style="font-size:7.4px;stroke-width:0.1px">1/2</text>
<text class="lg" x="302.6" y="211">= 164 MeV</text>
<path d="M168.8,224.5 H196.2" stroke="#000" stroke-width="1.1"/>
<path d="M205.1,224.5 H232.7" stroke="#000" stroke-width="1.1" stroke-dasharray="4.2 3.4"/>
<text class="lg" x="235.3" y="228">C= –0.3, D</text>
<text x="293" y="223" style="font-size:7.4px;stroke-width:0.1px">1/2</text>
<text class="lg" x="302.6" y="228">= 168 MeV</text>
</svg></body></html>
